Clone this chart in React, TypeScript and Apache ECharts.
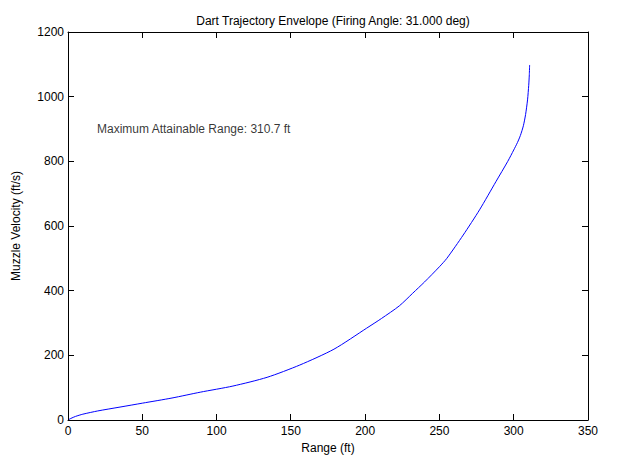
import React, { useEffect, useRef } from "react";
import * as echarts from "echarts";

const rangeFt = [0, 2, 5, 10, 20, 35, 50, 70, 89, 111, 134, 156, 179, 201, 211, 223, 232, 240, 250, 255, 266, 277, 288, 296, 300, 302.5, 304.5, 306.5, 308, 309.3, 310.1, 310.5, 310.7];
const muzzleVel = [0, 5, 11, 18, 28, 40, 52, 68, 86, 105, 132, 170, 219, 284, 314, 353, 392, 427, 474, 500, 572, 650, 737, 800, 835, 858, 880, 910, 945, 990, 1035, 1068, 1098];
const xTickValues = [0, 50, 100, 150, 200, 250, 300, 350];
const yTickValues = [0, 200, 400, 600, 800, 1000, 1200];
const xTicks = { min: 0, max: 350, interval: 50 };
const yTicks = { min: 0, max: 1200, interval: 200 };
const titleText = "Dart Trajectory Envelope (Firing Angle: 31.000 deg)";
const noteText = "Maximum Attainable Range: 310.7 ft";
const notePos = [19.5, 900];

const FONT = "Liberation Sans, Arial, sans-serif";
const TICK_LEN = 6;

export default function App() {
  const ref = useRef<HTMLDivElement>(null);
  useEffect(() => {
    if (!ref.current) return;
    const chart = echarts.init(ref.current, null, { renderer: "svg" });
    const mkAxis = (extra: any) => ({
      type: "value",
      axisLine: { show: true, onZero: false, lineStyle: { color: "#000", width: 1 } },
      axisTick: { show: false },
      splitLine: { show: false },
      ...extra,
    });
    const plain = (v: number) => String(v);
    chart.setOption({
      animation: false,
      backgroundColor: "#fff",
      textStyle: { fontFamily: FONT },
      title: {
        text: titleText,
        left: 328,
        textAlign: "center",
        top: 10,
        textStyle: { fontSize: 12, fontWeight: "normal", color: "#000", fontFamily: FONT },
      },
      grid: { left: 68, right: 31, top: 32, bottom: 52 },
      xAxis: [
        mkAxis({
          ...xTicks,
          position: "bottom",
          axisLabel: { color: "#000", fontSize: 12, margin: 5, fontFamily: FONT, formatter: plain },
          name: "Range (ft)",
          nameLocation: "middle",
          nameGap: 21,
          nameTextStyle: { color: "#000", fontSize: 12, fontFamily: FONT },
        }),
        mkAxis({ ...xTicks, position: "top", axisLabel: { show: false } }),
      ],
      yAxis: [
        mkAxis({
          ...yTicks,
          position: "left",
          axisLabel: { color: "#000", fontSize: 12, margin: 4, fontFamily: FONT, formatter: plain },
          name: "Muzzle Velocity (ft/s)",
          nameLocation: "middle",
          nameGap: 46,
          nameTextStyle: { color: "#000", fontSize: 12, fontFamily: FONT },
        }),
        mkAxis({ ...yTicks, position: "right", axisLabel: { show: false } }),
      ],
      series: [
        {
          type: "line",
          data: rangeFt.map((x, i) => [x, muzzleVel[i]]),
          showSymbol: false,
          symbol: "none",
          smooth: 0.25,
          lineStyle: { color: "#0000ff", width: 1 },
        },
        {
          type: "scatter",
          data: [notePos],
          symbolSize: 0,
          label: {
            show: true,
            position: "right",
            distance: 0,
            formatter: noteText,
            color: "#000",
            fontSize: 12,
            fontFamily: FONT,
          },
        },
      ],
    });
    const toPx = (p: number[]) => chart.convertToPixel({ gridIndex: 0 }, p) as number[];
    const snap = (v: number) => Math.floor(v) + 0.5;
    const style = { stroke: "#000", lineWidth: 1 };
    const elements: any[] = [];
    xTickValues.forEach((v) => {
      const b = toPx([v, yTicks.min]);
      const t = toPx([v, yTicks.max]);
      const x = snap(b[0]);
      elements.push({ type: "line", silent: true, z: 10, shape: { x1: x, y1: b[1], x2: x, y2: b[1] - TICK_LEN }, style });
      elements.push({ type: "line", silent: true, z: 10, shape: { x1: x, y1: t[1], x2: x, y2: t[1] + TICK_LEN }, style });
    });
    yTickValues.forEach((v) => {
      const l = toPx([xTicks.min, v]);
      const r = toPx([xTicks.max, v]);
      const y = snap(l[1]);
      elements.push({ type: "line", silent: true, z: 10, shape: { x1: l[0], y1: y, x2: l[0] + TICK_LEN, y2: y }, style });
      elements.push({ type: "line", silent: true, z: 10, shape: { x1: r[0], y1: y, x2: r[0] - TICK_LEN, y2: y }, style });
    });
    chart.setOption({ graphic: elements });
    return () => chart.dispose();
  }, []);
  return <div ref={ref} style={{ width: 619, height: 472, margin: -8 }} />;
}
